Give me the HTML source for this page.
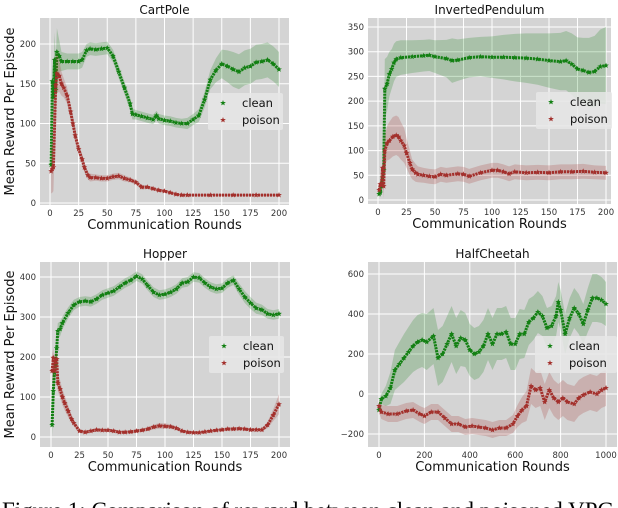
<!DOCTYPE html>
<html><head><meta charset="utf-8"><style>
html,body{margin:0;padding:0;background:#fff;width:618px;height:508px;overflow:hidden}
svg{display:block;font-family:"DejaVu Sans","Liberation Sans",sans-serif}
</style></head><body>
<svg id="fig" width="618" height="508" viewBox="0 0 618 508">
<text x="2" y="518" font-family="Liberation Serif, serif" font-size="23" fill="#000">Figure 1: Comparison of reward between clean and poisoned VPG</text>
</svg>
<script>
// ---------- data ----------
const cpCleanX=[1,2,3,4,5,6,8,10,15,20,25,28,32,35,40,45,50,55,60,65,70,72,75,80,85,90,93,95,100,105,110,115,120,125,130,135,140,145,150,155,160,165,170,175,180,185,190,195,200];
const cpCleanY=[48,153,133,180,142,190,185,178,178,178,178,180,192,194,193,194,195,185,165,145,125,112,111,109,107,105,110,106,104,103,101,100,100,105,110,130,155,167,175,172,168,165,170,172,177,178,180,175,168];
const cpCleanE=[20,25,30,35,40,30,20,12,10,10,10,10,8,8,8,8,8,8,8,8,8,7,6,6,6,6,6,6,6,6,6,6,7,7,8,10,12,15,18,20,22,22,22,22,22,22,22,22,22];
const cpPoisX=[1,2,3,5,6,8,10,12,15,18,20,22,25,28,30,33,35,40,45,50,55,60,65,70,75,80,85,90,95,100,105,110,115,120,140,160,180,200];
const cpPoisY=[40,43,45,148,163,160,150,145,135,115,100,85,68,55,45,35,32,32,31,31,33,34,31,29,26,20,20,18,16,15,13,11,10,10,10,10,10,10];
const cpPoisE=[28,30,30,35,25,20,15,12,10,9,8,8,7,6,6,5,5,4,4,4,4,4,4,3,3,3,2,2,2,2,1,1,1,1,1,1,1,1];

const ipCleanX=[1,2,4,5,6,8,10,12,14,16,20,30,40,45,50,60,65,70,80,90,100,110,120,130,140,150,160,165,170,175,180,185,190,195,200];
const ipCleanY=[12,15,45,60,225,235,255,265,278,285,288,290,292,293,290,286,282,283,288,290,289,289,288,287,285,282,280,282,275,265,262,258,260,270,272];
const ipCleanE=[5,8,20,40,60,55,45,40,38,36,35,33,32,32,33,38,45,42,40,40,42,45,48,50,52,55,58,60,62,64,66,70,72,75,78];
const ipPoisX=[1,2,3,4,5,6,8,10,13,16,18,20,23,25,28,30,33,35,40,45,50,55,60,70,75,80,90,100,105,110,115,120,130,140,150,160,170,180,190,200];
const ipPoisY=[20,32,30,65,28,100,115,120,128,131,128,120,110,95,75,62,55,52,50,48,47,52,50,53,52,48,55,60,60,57,53,57,55,56,55,57,57,58,56,55];
const ipPoisE=[8,10,12,20,25,30,35,38,40,40,40,38,35,30,25,20,18,16,15,15,15,15,15,15,15,15,15,15,15,15,15,15,15,15,15,15,15,15,14,14];

const hoCleanX=[1,2,3,4,5,6,8,10,15,20,25,30,35,40,45,50,55,60,65,70,75,80,85,90,95,100,105,110,115,120,125,130,135,140,145,150,155,160,165,170,175,180,185,190,195,200];
const hoCleanY=[30,115,160,180,222,265,270,285,310,330,338,340,338,345,355,360,365,375,385,392,402,395,378,362,355,357,362,370,385,388,400,398,385,375,370,372,385,392,370,350,335,322,318,308,305,308];
const hoCleanE=[30,40,40,35,30,20,18,16,14,13,12,12,12,12,12,12,12,12,12,12,12,12,12,12,12,12,12,12,12,12,12,12,12,12,12,12,12,12,14,15,15,14,13,12,12,12];
const hoPoisX=[1,2,3,4,5,6,8,10,12,15,18,20,25,30,35,40,45,50,55,60,65,70,75,80,85,90,95,100,105,110,115,120,125,130,135,140,145,150,155,160,165,170,175,180,185,190,195,200];
const hoPoisY=[165,198,165,190,195,135,120,100,85,65,45,35,15,12,15,18,17,17,15,12,12,13,15,17,20,25,28,27,26,22,15,12,11,11,13,15,17,18,20,20,21,20,18,18,18,30,55,82];
const hoPoisE=[40,25,25,20,18,20,22,20,18,15,10,8,5,4,4,4,4,4,4,4,4,4,4,4,5,6,7,7,6,5,4,3,3,3,3,3,3,3,4,4,4,4,4,4,4,8,15,25];

const hcCleanX=[0,10,30,50,70,90,110,130,150,170,190,210,240,260,280,300,320,340,360,380,400,420,440,460,480,500,520,540,560,580,600,620,640,660,680,700,720,740,760,780,790,800,820,840,860,880,900,920,940,960,980,1000];
const hcCleanY=[-80,-25,-10,30,120,150,180,210,240,260,270,260,290,180,200,250,300,240,280,270,220,200,210,240,300,250,300,300,310,250,250,300,300,360,380,410,390,330,340,390,460,420,300,380,430,400,350,420,480,480,470,450];
const hcCleanE=[10,25,50,80,100,110,120,125,130,135,135,140,140,140,140,140,140,140,140,135,130,130,130,130,130,130,130,130,130,130,130,125,120,115,110,105,100,100,100,100,100,100,100,100,100,100,100,110,120,120,115,110];
const hcPoisX=[0,10,40,80,120,150,180,200,230,260,290,320,350,380,410,440,470,500,530,560,590,610,630,650,670,690,710,730,750,770,790,810,830,860,880,900,930,960,980,1000];
const hcPoisY=[-60,-90,-100,-100,-85,-80,-100,-110,-90,-90,-120,-150,-150,-165,-160,-165,-170,-180,-170,-170,-150,-110,-80,-60,40,20,30,-40,20,-20,-40,-20,-40,-50,-20,-5,10,0,20,30];
const hcPoisE=[30,35,40,40,40,40,40,40,40,40,40,40,40,40,40,40,40,40,40,40,45,55,65,75,90,90,90,90,90,90,90,90,90,90,90,90,90,90,90,90];

const cpXTicks=[0,25,50,75,100,125,150,175,200];
const cpYTicks=[0,50,100,150,200];
const ipYTicks=[0,50,100,150,200,250,300,350];
const hoYTicks=[0,100,200,300,400];
const hcXTicks=[0,200,400,600,800,1000];
const hcYTicks=[-200,0,200,400,600];

// ---------- drawing ----------
const NS="http://www.w3.org/2000/svg";
const svg=document.getElementById('fig');
function mk(tag,attrs,parent){const e=document.createElementNS(NS,tag);for(const k in attrs)e.setAttribute(k,attrs[k]);(parent||svg).appendChild(e);return e;}
function starPath(cx,cy,r){let d='';for(let i=0;i<10;i++){const a=-Math.PI/2+i*Math.PI/5;const rr=i%2?r*0.42:r;d+=(i?'L':'M')+(cx+rr*Math.cos(a)).toFixed(1)+','+(cy+rr*Math.sin(a)).toFixed(1);}return d+'Z';}

function panel(p){
  const g=mk('g',{});
  
  
  const sx=v=>p.x0px+(v-p.xmin)/(p.xmax-p.xmin)*(p.x1px-p.x0px);
  const sy=v=>p.y0px+(v-p.ymin)/(p.ymax-p.ymin)*(p.y1px-p.y0px);
  const bg=mk('rect',{x:p.L,y:p.T,width:p.R-p.L,height:p.B-p.T,fill:'#d4d4d4'},g);
  
  
  p.xt.forEach(t=>{const x=sx(t);
    const l=mk('line',{x1:x,x2:x,y1:p.T,y2:p.B,stroke:'#fff','stroke-width':1},g);
    
    const tx=mk('text',{x:x,y:p.B+11,'font-size':8.5,'text-anchor':'middle',fill:'#333'},g);
    
    tx.textContent=t;});
  p.yt.forEach(t=>{const y=sy(t);
    const l=mk('line',{x1:p.L,x2:p.R,y1:y,y2:y,stroke:'#fff','stroke-width':1},g);
    
    const tx=mk('text',{x:p.L-4,y:y+3,'font-size':8.5,'text-anchor':'end',fill:'#333'},g);
    
    tx.textContent=t<0?'\u2212'+(-t):t;});
  p.series.forEach(s=>{
    let up='',lo='';
    s.x.forEach((v,i)=>{up+=(i?'L':'M')+sx(v).toFixed(1)+','+sy(s.y[i]+s.e[i]).toFixed(1);});
    for(let i=s.x.length-1;i>=0;i--)lo+='L'+sx(s.x[i]).toFixed(1)+','+sy(s.y[i]-s.e[i]).toFixed(1);
    const band=mk('path',{d:up+lo+'Z',fill:s.c,'fill-opacity':0.22},g);
    
    let d='';s.x.forEach((v,i)=>{d+=(i?'L':'M')+sx(v).toFixed(1)+','+sy(s.y[i]).toFixed(1);});
    const line=mk('path',{d:d,fill:'none',stroke:s.c,'stroke-width':3,'stroke-dasharray':'2.2 0.8','stroke-linejoin':'round'},g);
    
    s.x.forEach((v,i)=>{const m=mk('path',{d:starPath(sx(v),sy(s.y[i]),3),fill:s.c},g);
      });
  });
  const t=mk('text',{x:(p.L+p.R)/2,y:p.T-4,'font-size':12,'text-anchor':'middle',fill:'#111'},g);
  t.textContent=p.title;
  const xl=mk('text',{x:(p.L+p.R)/2,y:p.B+24,'font-size':13,'text-anchor':'middle',fill:'#111'},g);
  xl.textContent='Communication Rounds';
  if(p.ylab){const yl=mk('text',{x:0,y:0,'font-size':13,'text-anchor':'middle',fill:'#111',transform:'translate(14,'+((p.T+p.B)/2)+') rotate(-90)'},g);
    yl.textContent='Mean Reward Per Episode';}
  const lg=mk('g',{},g);
  mk('rect',{x:p.lg[0],y:p.lg[1],width:p.lg[2],height:37,fill:'#e6e6e6','fill-opacity':0.85,rx:2},lg);
  p.series.forEach((s,i)=>{
    const cy=p.lg[1]+10+i*17;
    const m=mk('path',{d:starPath(p.lg[0]+15,cy,3),fill:s.c},lg);
    
    const tx=mk('text',{x:p.lg[0]+34,y:cy+4,'font-size':11.5,fill:'#111'},lg);
    tx.textContent=s.n;});
}
const G='#138013',P='#a3302c';
panel({name:'cartpole',title:'CartPole',L:40,R:289,T:18,B:205,x0px:50,x1px:279,xmin:0,xmax:200,y0px:203,y1px:44,ymin:0,ymax:200,xt:cpXTicks,yt:cpYTicks,ylab:true,lg:[208,93,75],
  series:[{n:'clean',c:G,x:cpCleanX,y:cpCleanY,e:cpCleanE},{n:'poison',c:P,x:cpPoisX,y:cpPoisY,e:cpPoisE}]});
panel({name:'invertedpendulum',title:'InvertedPendulum',L:368,R:611,T:18,B:204,x0px:378,x1px:606,xmin:0,xmax:200,y0px:200,y1px:27,ymin:0,ymax:350,xt:cpXTicks,yt:ipYTicks,ylab:false,lg:[536,92,76],
  series:[{n:'clean',c:G,x:ipCleanX,y:ipCleanY,e:ipCleanE},{n:'poison',c:P,x:ipPoisX,y:ipPoisY,e:ipPoisE}]});
panel({name:'hopper',title:'Hopper',L:40,R:290,T:262,B:447,x0px:51,x1px:279,xmin:0,xmax:200,y0px:437,y1px:277,ymin:0,ymax:400,xt:cpXTicks,yt:hoYTicks,ylab:true,lg:[209,336,75],
  series:[{n:'clean',c:G,x:hoCleanX,y:hoCleanY,e:hoCleanE},{n:'poison',c:P,x:hoPoisX,y:hoPoisY,e:hoPoisE}]});
panel({name:'halfcheetah',title:'HalfCheetah',L:368,R:617,T:262,B:447,x0px:379,x1px:606,xmin:0,xmax:1000,y0px:394,y1px:274,ymin:0,ymax:600,xt:hcXTicks,yt:hcYTicks,ylab:false,lg:[535,336,82],
  series:[{n:'clean',c:G,x:hcCleanX,y:hcCleanY,e:hcCleanE},{n:'poison',c:P,x:hcPoisX,y:hcPoisY,e:hcPoisE}]});
</script>
</body></html>
